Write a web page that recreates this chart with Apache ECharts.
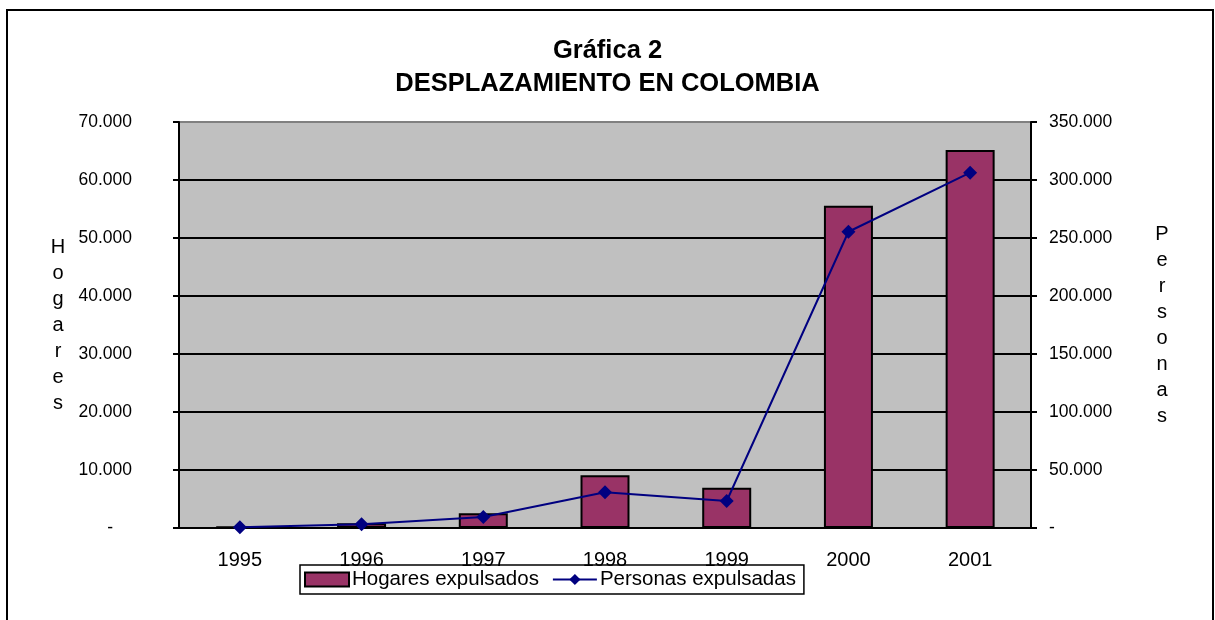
<!DOCTYPE html>
<html>
<head>
    <meta charset="UTF-8">
    <script src="https://cdn.jsdelivr.net/npm/echarts@6/dist/echarts.min.js"></script>
    <style>
        html, body { margin: 0; padding: 0; background: #fff; }
    </style>
</head>
<body>
<div id="main" style="width: 1215px;height:620px;"></div>
<script>
    // datos
    var years = ['1995', '1996', '1997', '1998', '1999', '2000', '2001'];
    var hogares = [290, 810, 2530, 9090, 6950, 55570, 65170];
    var personas = [600, 3200, 9500, 30800, 23300, 255400, 306300];

    var font = 'Liberation Sans, Arial, sans-serif';

    function miles(v) {
        return String(v).replace(/\B(?=(\d{3})+(?!\d))/g, '.');
    }

    var myChart = echarts.init(document.getElementById('main'));

    var option = {
        animation: false,
        backgroundColor: '#fff',
        textStyle: { fontFamily: font, color: '#000' },
        graphic: [{
            type: 'rect',
            shape: { x: 7, y: 10, width: 1206, height: 640 },
            style: { fill: 'none', stroke: '#000', lineWidth: 2 }
        }],
        title: {
            text: 'Gráfica 2\nDESPLAZAMIENTO EN COLOMBIA',
            left: 'center',
            top: 29,
            textStyle: { fontFamily: font, fontSize: 25.5, fontWeight: 'bold', color: '#000', lineHeight: 33, align: 'center' }
        },
        legend: {
            left: 300,
            top: 565,
            orient: 'horizontal',
            borderColor: '#000',
            borderWidth: 1.5,
            padding: [4, 8, 4, 4],
            itemGap: 13,
            itemWidth: 44,
            itemHeight: 14,
            textStyle: { fontFamily: font, fontSize: 20.5, color: '#000', padding: [0, 0, 0, -2] },
            data: [{ name: 'Hogares expulsados', icon: 'rect' }, { name: 'Personas expulsadas' }]
        },
        grid: {
            left: 179,
            right: 184,
            top: 122,
            bottom: 92,
            show: true,
            backgroundColor: '#c0c0c0',
            borderColor: '#808080',
            borderWidth: 1
        },
        xAxis: {
            type: 'category',
            data: years,
            boundaryGap: true,
            axisLine: { lineStyle: { color: '#000', width: 2 } },
            axisTick: { length: 6, lineStyle: { color: '#000', width: 2 } },
            axisLabel: { fontFamily: font, fontSize: 20, color: '#000', margin: 22 }
        },
        yAxis: [{
            type: 'value',
            min: 0,
            max: 70000,
            interval: 10000,
            name: 'H\no\ng\na\nr\ne\ns',
            nameLocation: 'middle',
            nameRotate: 0,
            nameGap: 121,
            nameTextStyle: { fontFamily: font, fontSize: 20, color: '#000', lineHeight: 26, align: 'center' },
            axisLine: { show: true, lineStyle: { color: '#000', width: 2 } },
            axisTick: { show: true, length: 6, lineStyle: { color: '#000', width: 2 } },
            axisLabel: {
                fontFamily: font, fontSize: 17.5, color: '#000', margin: 47,
                formatter: function (v) { return v === 0 ? '{d|-}' : miles(v); },
                rich: { d: { fontFamily: font, fontSize: 17.5, color: '#000', padding: [0, 19, 0, 0] } }
            },
            splitLine: {
                show: true,
                lineStyle: { color: ['#000', '#000', '#000', '#000', '#000', '#000', '#000', '#808080'], width: 2 }
            }
        }, {
            type: 'value',
            min: 0,
            max: 350000,
            interval: 50000,
            position: 'right',
            name: 'P\ne\nr\ns\no\nn\na\ns',
            nameLocation: 'middle',
            nameRotate: 0,
            nameGap: 131,
            nameTextStyle: { fontFamily: font, fontSize: 20, color: '#000', lineHeight: 26, align: 'center' },
            axisLine: { show: true, lineStyle: { color: '#000', width: 2 } },
            axisTick: { show: true, length: 6, lineStyle: { color: '#000', width: 2 } },
            axisLabel: {
                fontFamily: font, fontSize: 17.5, color: '#000', margin: 18,
                formatter: function (v) { return v === 0 ? '-' : miles(v); }
            },
            splitLine: { show: false }
        }],
        series: [{
            name: 'Hogares expulsados',
            type: 'bar',
            yAxisIndex: 0,
            barWidth: 49,
            data: hogares,
            itemStyle: { color: '#993366', borderColor: '#000', borderWidth: 2 }
        }, {
            name: 'Personas expulsadas',
            type: 'line',
            yAxisIndex: 1,
            data: personas,
            symbol: 'diamond',
            symbolSize: 14,
            lineStyle: { color: '#000080', width: 2 },
            itemStyle: { color: '#000080' }
        }]
    };
    myChart.setOption(option);
</script>
</body>
</html>
